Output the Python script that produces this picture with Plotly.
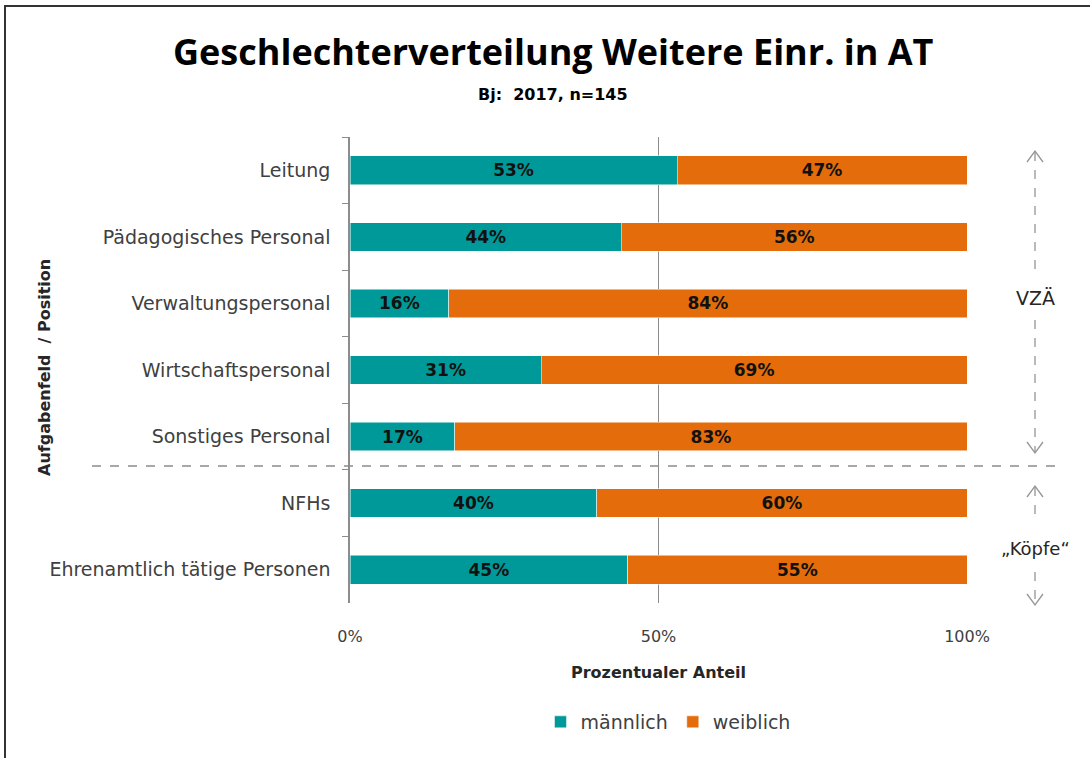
import plotly.graph_objects as go

categories = ["Leitung", "Pädagogisches Personal", "Verwaltungspersonal",
              "Wirtschaftspersonal", "Sonstiges Personal", "NFHs",
              "Ehrenamtlich tätige Personen"]
maennlich = [53, 44, 16, 31, 17, 40, 45]
weiblich = [47, 56, 84, 69, 83, 60, 55]
x_ticks = [0, 50, 100]
x_tick_labels = ["0%", "50%", "100%"]

TEAL = "#009999"
ORANGE = "#E46C0A"
GREY = "#8C8C8C"
FONT = "DejaVu Sans"
TFONT = "Open Sans"

W, H = 1090, 758
L, R, T, B = 350, 967, 137, 603


def px(x):
    return (x - L) / (R - L)


def py(y):
    return (B - y) / (B - T)


fig = go.Figure()
fig.add_trace(go.Bar(
    y=categories, x=maennlich, orientation="h", name="männlich",
    marker=dict(color=TEAL, line=dict(color="white", width=0.5)),
    text=[f"{v}%" for v in maennlich], textposition="inside",
    insidetextanchor="middle",
    textfont=dict(family=FONT, size=17, color="#111111", weight="bold"),
    hoverinfo="skip",
))
fig.add_trace(go.Bar(
    y=categories, x=weiblich, orientation="h", name="weiblich",
    marker=dict(color=ORANGE, line=dict(color="white", width=0.5)),
    text=[f"{v}%" for v in weiblich], textposition="inside",
    insidetextanchor="middle",
    textfont=dict(family=FONT, size=17, color="#111111", weight="bold"),
    hoverinfo="skip",
))

shapes = []
# outer border
shapes.append(dict(type="rect", xref="paper", yref="paper",
                   x0=px(5), x1=px(1200), y0=py(900), y1=py(6),
                   line=dict(color="#333333", width=2), layer="above"))
# separator line
shapes.append(dict(type="line", xref="paper", yref="paper",
                   x0=px(92), x1=px(1062), y0=py(466), y1=py(466),
                   line=dict(color=GREY, width=1.3, dash="dash")))

ACOL = "#959595"


def vline(x, y0, y1):
    shapes.append(dict(type="line", xref="paper", yref="paper",
                       x0=px(x), x1=px(x), y0=py(y0), y1=py(y1),
                       line=dict(color=ACOL, width=1.3, dash="dash")))


def chevron(x, y, up=True):
    d = 11 if up else -11
    path = (f"M {px(x-8)} {py(y+d)} L {px(x)} {py(y)} L {px(x+8)} {py(y+d)}")
    shapes.append(dict(type="path", xref="paper", yref="paper", path=path,
                       line=dict(color=ACOL, width=1.3)))


AX = 1035
vline(AX, 152, 276)
vline(AX, 320, 452)
chevron(AX, 151, up=True)
chevron(AX, 453, up=False)
vline(AX, 487, 520)
vline(AX, 572, 604)
chevron(AX, 486, up=True)
chevron(AX, 605, up=False)


def ann(text, x, y, size, family=FONT, color="#262626", angle=0):
    return dict(text=text, x=px(x), y=py(y), xref="paper", yref="paper",
                xanchor="center", yanchor="middle", showarrow=False,
                textangle=angle, font=dict(family=family, size=size, color=color))


annotations = [
    ann("<b>Geschlechterverteilung Weitere Einr. in AT</b>", 553, 52, 36, TFONT, "black"),
    ann("<b>Bj:  2017, n=145</b>", 553, 95, 16, FONT, "black"),
    ann("<b>Prozentualer Anteil</b>", 658, 672, 16),
    ann("<b>Aufgabenfeld  / Position</b>", 44, 368, 16, angle=-90),
    ann("VZÄ", AX, 298, 19),
    ann("„Köpfe“", AX, 548, 18),
]

fig.update_layout(
    width=W, height=H,
    margin=dict(l=L, r=W - R, t=T, b=H - B, pad=0),
    barmode="stack", bargap=0.57,
    plot_bgcolor="white", paper_bgcolor="white",
    font=dict(family=FONT, size=19, color="#404040"),
    showlegend=True,
    legend=dict(orientation="h", x=px(668), xanchor="center", y=py(722),
                yanchor="middle", font=dict(family=FONT, size=19, color="#404040"),
                traceorder="normal", itemwidth=30),
    shapes=shapes, annotations=annotations,
    xaxis=dict(range=[0, 100], tickvals=x_ticks, ticktext=x_tick_labels,
               showgrid=True, gridcolor=GREY, gridwidth=1.2, zeroline=False,
               showline=False, ticks="", ticklabelstandoff=22,
               tickfont=dict(family=FONT, size=16, color="#404040"), fixedrange=True),
    yaxis=dict(categoryorder="array", categoryarray=categories, autorange="reversed",
               showgrid=False, showline=True, linecolor=GREY, linewidth=1.5,
               ticks="outside", tickson="boundaries", ticklen=6, tickcolor=GREY,
               ticklabelstandoff=14,
               tickfont=dict(family=FONT, size=19, color="#404040"), fixedrange=True),
)

fig.write_html("out.html", config={"displayModeBar": False},
               post_script="document.body.style.margin='0';")
